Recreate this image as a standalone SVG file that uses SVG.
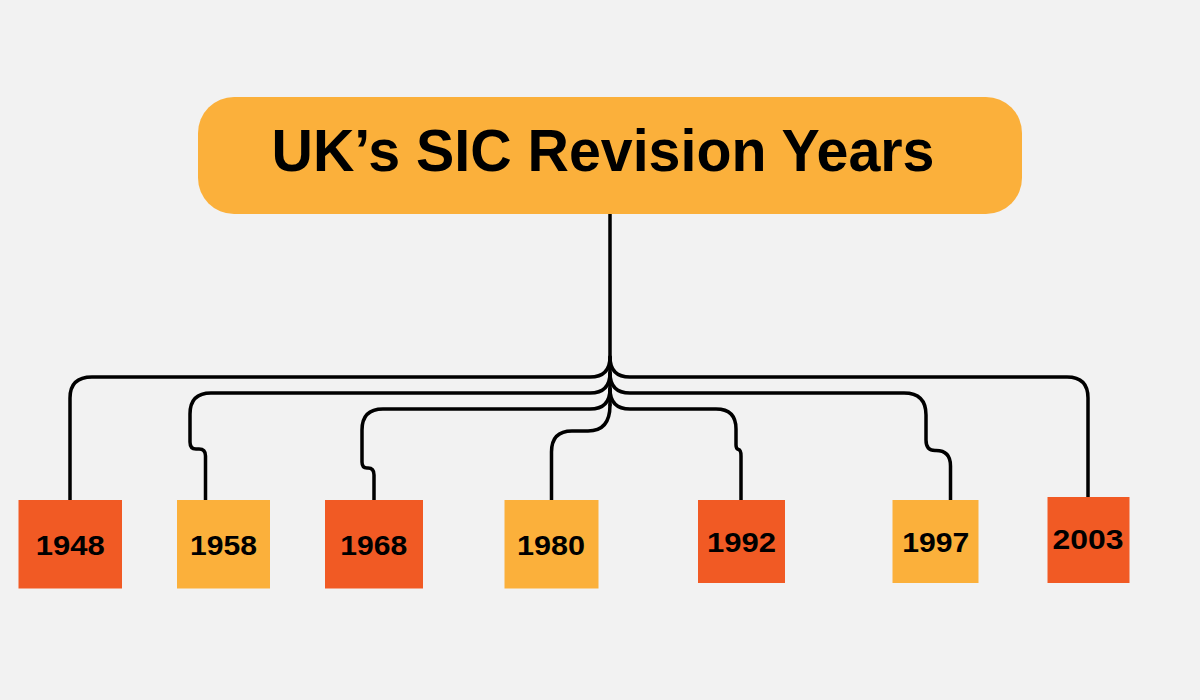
<svg xmlns="http://www.w3.org/2000/svg" width="1200" height="700" viewBox="0 0 1200 700">
<style>
.bg{fill:#F2F2F2}
.red{fill:#F15A24}
.org{fill:#FBB03B}
.yr{font-family:"Liberation Sans",Arial,sans-serif;font-weight:700;font-size:28px;fill:#000;text-anchor:middle}
.title{font-family:"Liberation Sans",Arial,sans-serif;font-weight:700;font-size:59px;fill:#000;text-anchor:middle}
.conn path{fill:none;stroke:#000;stroke-width:3.5;stroke-linecap:round;stroke-linejoin:round}
</style>
<rect class="bg" x="0" y="0" width="1200" height="700"/>
<g id="connectors" class="conn">
<path d="M610,214 V405"/>
<path d="M70,500 V398 Q70,377 92,377 H590 Q610,377 610,357"/>
<path d="M205.5,500 V456 Q205.5,449 199,449 H196 Q190,449 190,442 V414 Q190,393 211,393 H590 Q610,393 610,373"/>
<path d="M374,500 V475 Q374,468 368,468 H367 Q362,468 362,462 V430 Q362,409 383,409 H590 Q610,409 610,389"/>
<path d="M551.5,500 V452 Q551.5,431 572,431 H588 Q610,431 610,405"/>
<path d="M741,500 V456 Q741,450 738.5,449.5 Q736,449 736,445 V429 Q736,409 716,409 H630 Q610,409 610,389"/>
<path d="M950.5,500 V466 Q950.5,450.5 936,450.5 H935 Q926,450.5 926,440 V415 Q926,393 904,393 H630 Q610,393 610,373"/>
<path d="M1088,497 V398 Q1088,377 1067,377 H630 Q610,377 610,357"/>
</g>
<g id="title">
<rect class="org" x="198" y="97" width="824" height="117" rx="36" ry="36"/>
<text class="title" x="603" y="171" textLength="663" lengthAdjust="spacingAndGlyphs">UK’s SIC Revision Years</text>
</g>
<g id="y1948">
<rect class="red" x="18.5" y="500" width="103.5" height="88.5"/>
<text class="yr" x="70.2" y="555" textLength="69" lengthAdjust="spacingAndGlyphs">1948</text>
</g>
<g id="y1958">
<rect class="org" x="177" y="500" width="93" height="88.5"/>
<text class="yr" x="223.5" y="555" textLength="67" lengthAdjust="spacingAndGlyphs">1958</text>
</g>
<g id="y1968">
<rect class="red" x="325" y="500" width="98" height="88.5"/>
<text class="yr" x="373.7" y="555" textLength="67" lengthAdjust="spacingAndGlyphs">1968</text>
</g>
<g id="y1980">
<rect class="org" x="504.5" y="500" width="94" height="88.5"/>
<text class="yr" x="551" y="555" textLength="68" lengthAdjust="spacingAndGlyphs">1980</text>
</g>
<g id="y1992">
<rect class="red" x="698" y="500" width="87" height="83"/>
<text class="yr" x="741.6" y="552" textLength="69" lengthAdjust="spacingAndGlyphs">1992</text>
</g>
<g id="y1997">
<rect class="org" x="892.5" y="500" width="86" height="83"/>
<text class="yr" x="935.8" y="552" textLength="67" lengthAdjust="spacingAndGlyphs">1997</text>
</g>
<g id="y2003">
<rect class="red" x="1047.5" y="497" width="82" height="86"/>
<text class="yr" x="1088" y="549" textLength="71" lengthAdjust="spacingAndGlyphs">2003</text>
</g>
</svg>
